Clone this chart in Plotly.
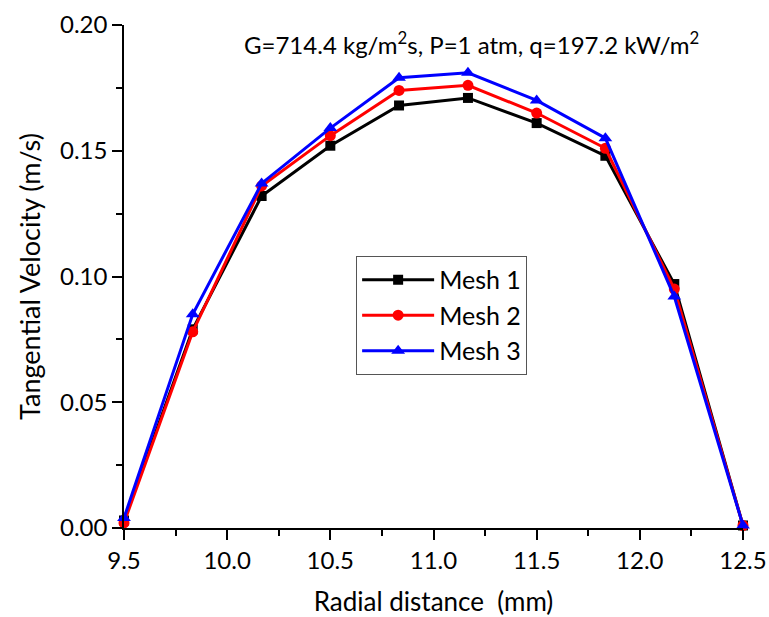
import plotly.graph_objects as go

radial_mm = [9.5, 9.833, 10.167, 10.5, 10.833, 11.167, 11.5, 11.833, 12.167, 12.5]
mesh1 = [0.003, 0.079, 0.132, 0.152, 0.168, 0.171, 0.161, 0.148, 0.097, 0.001]
mesh2 = [0.002, 0.078, 0.136, 0.156, 0.174, 0.176, 0.165, 0.151, 0.095, 0.001]
mesh3 = [0.004, 0.085, 0.137, 0.159, 0.179, 0.181, 0.170, 0.155, 0.092, 0.001]
series_names = ["Mesh 1", "Mesh 2", "Mesh 3"]
x_ticks = [9.5, 10.0, 10.5, 11.0, 11.5, 12.0, 12.5]
y_ticks = [0.00, 0.05, 0.10, 0.15, 0.20]

FONT = "Lato"
fig = go.Figure()
styles = [("black", "square", 10), ("red", "circle", 11), ("blue", "triangle-up", 12)]
for name, ys, (col, sym, sz) in zip(series_names, [mesh1, mesh2, mesh3], styles):
    fig.add_trace(go.Scatter(x=radial_mm, y=ys, mode="lines+markers", name=name,
                             legendgroup=name,
                             line=dict(color=col, width=3),
                             marker=dict(symbol=sym, size=sz, color=col), cliponaxis=False))

axis_common = dict(showline=True, linecolor="black", linewidth=1.5, ticks="outside",
                   ticklen=10, tickwidth=1.5, tickcolor="black", showgrid=False, zeroline=False,
                   tickfont=dict(family=FONT, size=24, color="black"), mirror=False,
                   automargin=False)
fig.update_xaxes(range=[9.5, 12.5], tickvals=x_ticks, ticktext=[f"{v:.1f}" for v in x_ticks],
                 minor=dict(ticks="outside", ticklen=6, tickwidth=1.5, tickcolor="black", dtick=0.25, showgrid=False),
                 title=dict(text="Radial distance  (mm)", font=dict(family=FONT, size=26, color="black"), standoff=22),
                 **axis_common)
fig.update_yaxes(range=[0, 0.2], tickvals=y_ticks, ticktext=[f"{v:.2f}" for v in y_ticks],
                 minor=dict(ticks="outside", ticklen=6, tickwidth=1.5, tickcolor="black", dtick=0.025, showgrid=False),
                 title=dict(text="Tangential Velocity (m/s)", font=dict(family=FONT, size=27, color="black"), standoff=12),
                 **axis_common)

fig.add_annotation(text="G=714.4 kg/m<sup>2</sup>s, P=1 atm, q=197.2 kW/m<sup>2</sup>",
                   xref="paper", yref="paper", x=0.561, y=0.964, xanchor="center", yanchor="middle",
                   showarrow=False, font=dict(family=FONT, size=24, color="black"))

fig.update_layout(width=769, height=617, margin=dict(l=124, r=26, t=25, b=89),
                  paper_bgcolor="white", plot_bgcolor="white",
                  legend=dict(x=0.375, y=0.541, xanchor="left", yanchor="top",
                              bordercolor="#555555", borderwidth=1, bgcolor="white",
                              font=dict(family=FONT, size=25, color="black"), itemwidth=72,
                              tracegroupgap=0))
fig.write_html("out.html")
